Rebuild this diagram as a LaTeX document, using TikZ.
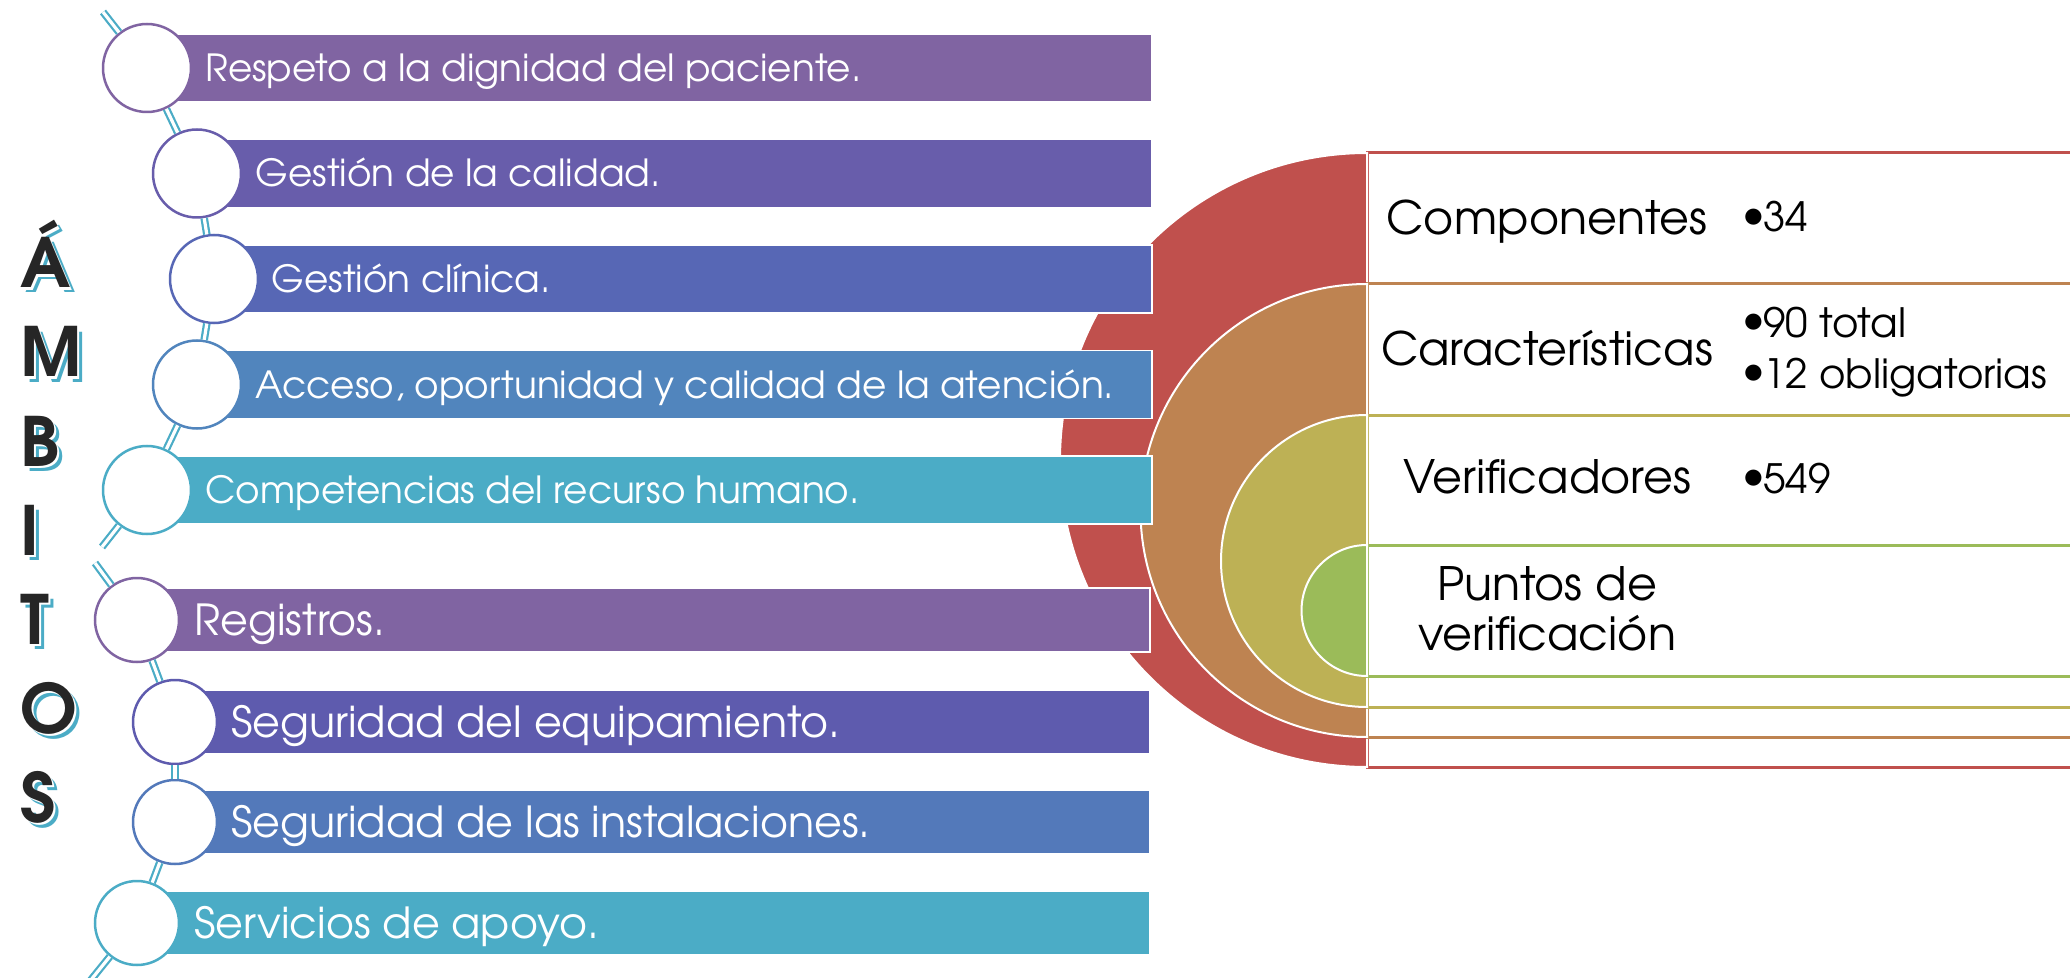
\documentclass[tikz,border=0pt]{standalone}
\usepackage{fontspec}
\setmainfont{texgyreadventor}[Extension=.otf, UprightFont=*-regular, BoldFont=*-bold, ItalicFont=*-italic, BoldItalicFont=*-bolditalic]
\definecolor{cA}{RGB}{128,100,162}
\definecolor{cB}{RGB}{104,93,171}
\definecolor{cC}{RGB}{87,103,181}
\definecolor{cD}{RGB}{81,133,189}
\definecolor{cE}{RGB}{75,172,198}
\definecolor{cF}{RGB}{94,91,174}
\definecolor{cG}{RGB}{83,121,186}
\definecolor{rA}{RGB}{192,80,77}
\definecolor{rB}{RGB}{190,131,81}
\definecolor{rC}{RGB}{189,177,85}
\definecolor{rD}{RGB}{155,187,89}
\newcommand\blt{\makebox[10pt][l]{\raisebox{2.2pt}{$\bullet$}}}
\newcommand\shadowed[1]{\rlap{\kern2.5pt\raisebox{-2.5pt}{\textcolor{cE}{#1}}}\rlap{\kern1.25pt\raisebox{-1.25pt}{\textcolor{white}{#1}}}\textcolor{black!85}{#1}}
\begin{document}
\begin{tikzpicture}[x=0.5pt,y=-0.5pt,
  conn/.style={draw=cE, line width=1.1pt, double=white, double distance=1.6pt},
  circA/.style={circle, fill=white, line width=1.25pt, minimum size=44pt, inner sep=0pt},
  circB/.style={circA, minimum size=42pt},
  barbox/.style={draw=white, line width=0.6pt},
  lblA/.style={text=white, inner sep=0pt, anchor=base west, font=\fontsize{18.7}{22}\selectfont},
  lblB/.style={lblA, font=\fontsize{21.4}{24}\selectfont},
  halfdisc/.style={draw=white, line width=1pt},
  listbox/.style={fill=white, line width=1.5pt},
  rlbl/.style={inner sep=0pt, anchor=base, align=center, font=\fontsize{23}{25}\selectfont},
  bltxt/.style={inner sep=0pt, anchor=base west, font=\fontsize{20.2}{25}\selectfont},
  ltr/.style={inner sep=0pt, anchor=base west, font=\bfseries\fontsize{34}{36}\selectfont}
]
\useasboundingbox (0,0) rectangle (2070,978);
\fill[white] (0,0) rectangle (2070,978);

% ---------- right: nested half discs with list boxes ----------
\filldraw[listbox, draw=rA] (1367,153) rectangle (2095,767);
\filldraw[halfdisc, fill=rA] (1367,153) arc[start angle=270, end angle=90, radius=307] -- cycle;
\filldraw[listbox, draw=rB] (1367,284) rectangle (2095,737);
\filldraw[halfdisc, fill=rB] (1367,284) arc[start angle=270, end angle=90, radius=226.5] -- cycle;
\filldraw[listbox, draw=rC] (1367,415) rectangle (2095,707);
\filldraw[halfdisc, fill=rC] (1367,415) arc[start angle=270, end angle=90, radius=146] -- cycle;
\filldraw[listbox, draw=rD] (1367,545) rectangle (2095,676);
\filldraw[halfdisc, fill=rD] (1367,545) arc[start angle=270, end angle=90, radius=65.5] -- cycle;

\node[rlbl] (k1) at (1547,235) {Componentes};
\node[rlbl] (k2) at (1547,365) {Características};
\node[rlbl] (k3) at (1547,493) {Verificadores};
\node[rlbl] (k4a) at (1547,600) {Puntos de};
\node[rlbl] (k4b) at (1547,650) {verificación};
\node[bltxt] (b1) at (1743,232) {\blt 34};
\node[bltxt] (b2) at (1743,337) {\blt 90 total};
\node[bltxt] (b3) at (1743,388) {\blt 12 obligatorias};
\node[bltxt] (b4) at (1743,493) {\blt 549};

% ---------- left: bars ----------
\filldraw[barbox, fill=cA] (147,34) rectangle (1152,102);
\filldraw[barbox, fill=cB] (197,139.5) rectangle (1152,207.5);
\filldraw[barbox, fill=cC] (214,245) rectangle (1152,313);
\filldraw[barbox, fill=cD] (197,350.5) rectangle (1152,418.5);
\filldraw[barbox, fill=cE] (147,456) rectangle (1152,524);
\filldraw[barbox, fill=cA] (137,588) rectangle (1150,652);
\filldraw[barbox, fill=cF] (175,690) rectangle (1150,754);
\filldraw[barbox, fill=cG] (175,790) rectangle (1150,854);
\filldraw[barbox, fill=cE] (137,891) rectangle (1150,955);

% circles
\node[circA, draw=cA] (c1) at (147,68) {};
\node[circA, draw=cB] (c2) at (197,173.5) {};
\node[circA, draw=cC] (c3) at (214,279) {};
\node[circA, draw=cD] (c4) at (197,384.5) {};
\node[circA, draw=cE] (c5) at (147,490) {};
\node[circB, draw=cA] (c6) at (137,620) {};
\node[circB, draw=cF] (c7) at (175,722) {};
\node[circB, draw=cG] (c8) at (175,822) {};
\node[circB, draw=cE] (c9) at (137,923) {};

% connectors
\coordinate (s1) at (103,12);
\coordinate (s5) at (102,547);
\coordinate (s6) at (95,563);
\coordinate (s9) at (86,986);
\draw[conn] (s1) -- (c1);
\draw[conn] (c1) -- (c2);
\draw[conn] (c2) -- (c3);
\draw[conn] (c3) -- (c4);
\draw[conn] (c4) -- (c5);
\draw[conn] (c5) -- (s5);
\draw[conn] (s6) -- (c6);
\draw[conn] (c6) -- (c7);
\draw[conn] (c7) -- (c8);
\draw[conn] (c8) -- (c9);
\draw[conn] (c9) -- (s9);

% labels
\node[lblA] (t1) at (205,81.5) {Respeto a la dignidad del paciente.};
\node[lblA] (t2) at (255,187) {Gestión de la calidad.};
\node[lblA] (t3) at (271,292.5) {Gestión clínica.};
\node[lblA] (t4) at (255,398) {Acceso, oportunidad y calidad de la atención.};
\node[lblA] (t5) at (205,503.5) {Competencias del recurso humano.};
\node[lblB] (t6) at (194,635) {Registros.};
\node[lblB] (t7) at (231,737) {Seguridad del equipamiento.};
\node[lblB] (t8) at (231,837) {Seguridad de las instalaciones.};
\node[lblB] (t9) at (194,938) {Servicios de apoyo.};

% AMBITOS
\node[ltr] (L1) at (20,288) {\shadowed{Á}};
\node[ltr] (L2) at (20,377) {\shadowed{M}};
\node[ltr] (L3) at (20,466) {\shadowed{B}};
\node[ltr] (L4) at (20,555) {\shadowed{I}};
\node[ltr] (L5) at (20,644) {\shadowed{T}};
\node[ltr] (L6) at (20,733) {\shadowed{O}};
\node[ltr] (L7) at (20,822) {\shadowed{S}};
\end{tikzpicture}
\end{document}
